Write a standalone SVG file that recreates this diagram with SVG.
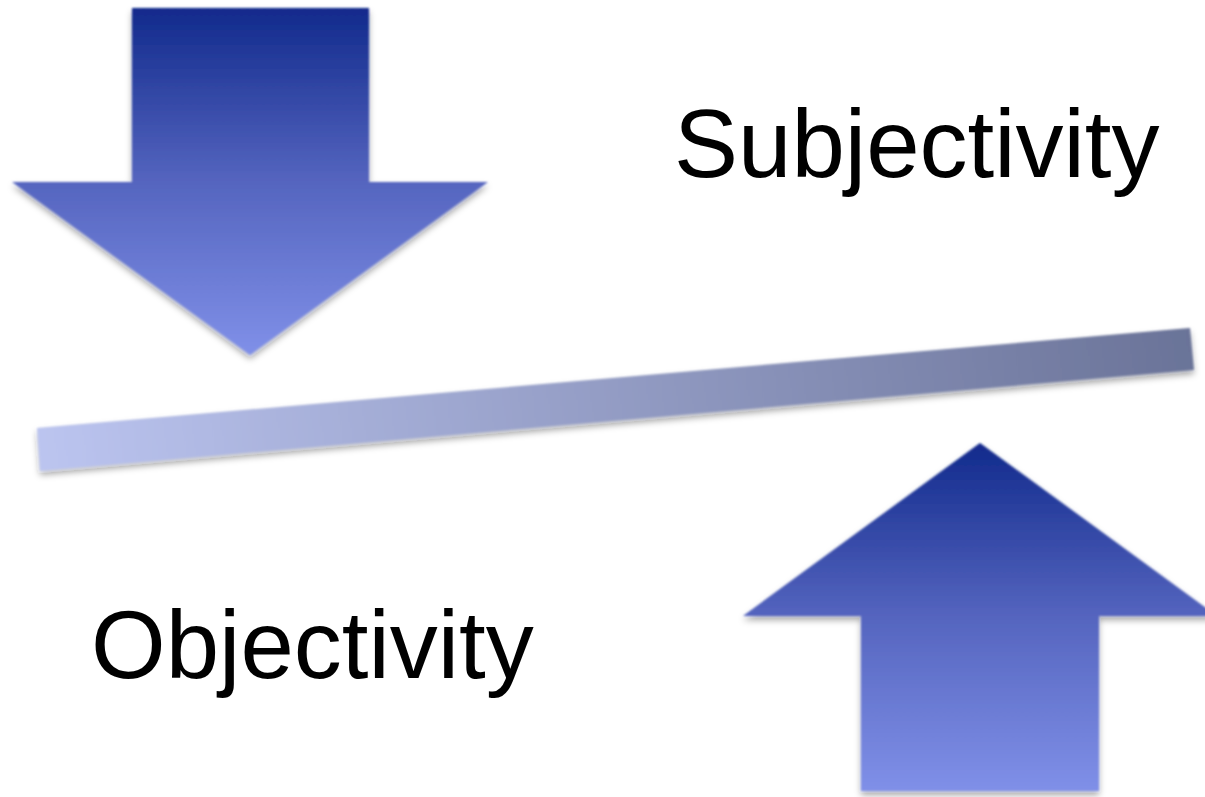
<svg xmlns="http://www.w3.org/2000/svg" width="1205" height="797" viewBox="0 0 1205 797">
<defs>
<linearGradient id="gDown" x1="0" y1="0" x2="0" y2="1">
<stop offset="0" stop-color="#112a8c"/>
<stop offset="0.5" stop-color="#5565bf"/>
<stop offset="1" stop-color="#8090e8"/>
</linearGradient>
<linearGradient id="gUp" x1="0" y1="1" x2="0" y2="0">
<stop offset="0" stop-color="#8090e8"/>
<stop offset="0.5" stop-color="#5565bf"/>
<stop offset="1" stop-color="#112a8c"/>
</linearGradient>
<linearGradient id="gBar" gradientUnits="userSpaceOnUse" x1="37" y1="480" x2="1194" y2="320">
<stop offset="0" stop-color="#bcc5f0"/>
<stop offset="1" stop-color="#6a7398"/>
</linearGradient>
<filter id="sh" x="-10%" y="-10%" width="120%" height="130%">
<feGaussianBlur in="SourceGraphic" stdDeviation="1.2" result="b"/>
<feDropShadow in="b" dx="0" dy="4" stdDeviation="3" flood-color="#000" flood-opacity="0.35"/>
</filter>
</defs>
<style>
.lbl{font-family:"Liberation Sans",Arial,sans-serif;fill:#000;font-size:96px}
</style>
<rect width="1205" height="797" fill="#fff"/>
<g id="arrow-down" filter="url(#sh)">
<polygon points="132,8 369,8 369,182 488,182 250,355 12,182 132,182" fill="url(#gDown)"/>
</g>
<g id="bar" filter="url(#sh)">
<polygon points="37,428 1190,328 1194,370 40,471" fill="url(#gBar)"/>
</g>
<g id="arrow-up" filter="url(#sh)">
<polygon points="980,443 1217,616 1099,616 1099,791 861,791 861,616 743,616" fill="url(#gUp)"/>
</g>
<g id="subjectivity"><text class="lbl" x="674" y="177">Subjectivity</text></g>
<g id="objectivity"><text class="lbl" x="91" y="678">Objectivity</text></g>
<g id="connectors"/>
</svg>
